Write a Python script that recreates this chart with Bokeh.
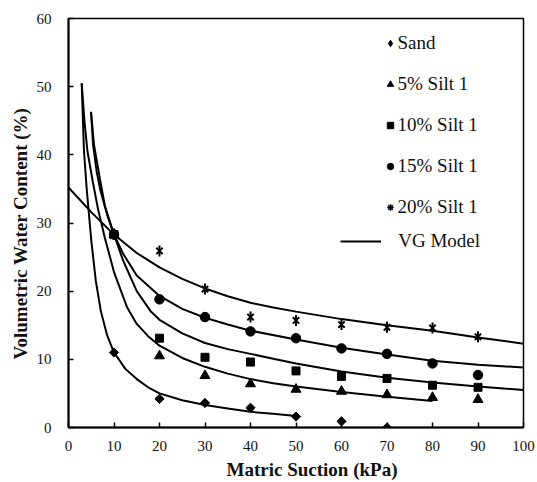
import math
from bokeh.plotting import figure
from bokeh.models import Range1d, SingleIntervalTicker, Legend, LegendItem, Title
from bokeh.embed import file_html
from bokeh.resources import INLINE

# ---------------- data ----------------
suction = [10, 20, 30, 40, 50, 60, 70, 80, 90]
sand = [11.0, 4.2, 3.6, 2.9, 1.6, 0.9, 0.0]
silt5 = [28.3, 10.5, 7.6, 6.4, 5.6, 5.3, 4.8, 4.4, 4.1]
silt10 = [28.3, 13.1, 10.3, 9.6, 8.3, 7.5, 7.2, 6.2, 5.9]
silt15 = [28.3, 18.8, 16.2, 14.1, 13.1, 11.6, 10.8, 9.4, 7.7]
silt20 = [28.4, 25.9, 20.3, 16.2, 15.7, 15.1, 14.7, 14.6, 13.3]

# VG model curves
vg_sand_x = [2.9, 3.4, 4.0, 5.0, 6.0, 7.1, 8.5, 10, 12.5, 15, 17.5, 20, 25, 30, 35, 40, 45, 50]
vg_sand_y = [50.5, 40.6, 35.0, 27.5, 21.5, 17.1, 13.5, 11.0, 8.6, 7.1, 5.9, 5.0, 4.0, 3.3, 2.8, 2.3, 2.0, 1.7]
vg_5_x = [2.9, 3.5, 4.15, 5.3, 6.5, 8, 10, 12.9, 15, 17.5, 20, 25, 30, 35, 40, 45, 50, 60, 70, 80]
vg_5_y = [50.5, 45.0, 40.6, 36.2, 32.0, 27.8, 22.8, 17.6, 15.2, 13.4, 12.0, 10.2, 8.9, 7.9, 7.1, 6.5, 6.0, 5.2, 4.5, 3.9]
vg_10_x = [4.95, 5.4, 6.2, 7, 8.5, 10, 12, 15, 18, 20, 25, 30, 35, 40, 45, 50, 60, 70, 80, 90, 100]
vg_10_y = [46.3, 41.5, 37.5, 34.8, 31.2, 28.3, 24.5, 20.0, 17.1, 15.8, 13.8, 12.4, 11.5, 10.8, 10.1, 9.4, 8.2, 7.3, 6.6, 6.0, 5.5]
vg_15_x = [4.95, 5.6, 6.9, 8, 10, 12, 15, 20, 25, 30, 35, 40, 50, 60, 70, 80, 90, 100]
vg_15_y = [46.3, 41.5, 36.5, 32.5, 28.3, 25.5, 22.3, 19.3, 17.4, 16.1, 15.1, 14.2, 12.9, 11.7, 10.7, 9.8, 9.2, 8.8]
vg_20_x = [0, 5, 10, 15, 20, 25, 30, 35, 40, 45, 50, 60, 70, 80, 90, 100]
vg_20_y = [35.2, 31.6, 28.3, 25.6, 23.5, 21.8, 20.4, 19.25, 18.3, 17.6, 17.0, 15.9, 15.0, 14.2, 13.2, 12.3]

series_names = ["Sand", "5% Silt 1", "10% Silt 1", "15% Silt 1", "20% Silt 1"]

FONT = "Liberation Serif"
INK = "#111111"
NAN = float("nan")

p = figure(width=537, height=482, output_backend="svg", toolbar_location=None,
           x_range=Range1d(0, 100), y_range=Range1d(0, 60),
           min_border_left=68, min_border_right=14, min_border_top=18, min_border_bottom=55)
p.background_fill_color = "white"
p.border_fill_color = "white"
p.xgrid.visible = False
p.ygrid.visible = False
p.outline_line_color = "black"
p.outline_line_width = 1.5

for ax in (p.xaxis[0], p.yaxis[0]):
    ax.axis_line_color = "black"
    ax.axis_line_width = 2
    ax.major_tick_in = 5
    ax.major_tick_out = 0
    ax.major_tick_line_width = 1.5
    ax.minor_tick_in = 0
    ax.minor_tick_out = 0
    ax.major_label_text_font = FONT
    ax.major_label_text_font_size = "15px"
    ax.major_label_text_color = INK
p.xaxis[0].ticker = SingleIntervalTicker(interval=10)
p.yaxis[0].ticker = SingleIntervalTicker(interval=10)
p.xaxis[0].major_label_standoff = 13
p.yaxis[0].major_label_standoff = 17

# curves
curves = []
for xs, ys in [(vg_sand_x, vg_sand_y), (vg_5_x, vg_5_y), (vg_10_x, vg_10_y),
               (vg_15_x, vg_15_y), (vg_20_x, vg_20_y)]:
    curves.append(p.line(xs, ys, line_color="black", line_width=2))

# markers
r_sand = p.scatter(suction[:len(sand)], sand, marker="square", size=6.5, angle=math.pi / 4,
                   fill_color="black", line_color="black")
r_5 = p.scatter(suction, silt5, marker="triangle", size=10, fill_color="black", line_color="black")
r_10 = p.scatter(suction, silt10, marker="square", size=8, fill_color="black", line_color="black")
r_15 = p.scatter(suction, silt15, marker="circle", size=9.5, fill_color="black", line_color="black")
r_20a = p.scatter(suction, silt20, marker="x", size=9, line_color="black", line_width=2)
r_20b = p.scatter(suction, silt20, marker="dash", size=11, angle=math.pi / 2,
                  line_color="black", line_width=2)

# legend-only glyphs (a single NaN point, never drawn in the plot)
lg_sand = p.scatter(x=[NAN], y=[NAN], marker="diamond", fill_color="black", line_color="black")
lg_20 = p.scatter(x=[NAN], y=[NAN], marker="asterisk", line_color="black", line_width=1.5)

leg1 = Legend(items=[
    LegendItem(label=series_names[0], renderers=[lg_sand]),
    LegendItem(label=series_names[1], renderers=[r_5]),
    LegendItem(label=series_names[2], renderers=[r_10]),
    LegendItem(label=series_names[3], renderers=[r_15]),
    LegendItem(label=series_names[4], renderers=[lg_20]),
], location=(313.5, 209), orientation="vertical")
leg2 = Legend(items=[LegendItem(label="VG Model", renderers=[curves[0]])],
              location=(272.2, 175))
for lg, gw, st in ((leg1, 16, 0), (leg2, 41, 17)):
    lg.glyph_width = gw
    lg.glyph_height = 16
    lg.label_standoff = st
    lg.label_height = 21
    lg.spacing = 19
    lg.padding = 0
    lg.margin = 0
    lg.border_line_color = None
    lg.background_fill_alpha = 0
    lg.label_text_font = FONT
    lg.label_text_font_size = "19px"
    lg.label_text_color = INK
    p.add_layout(lg)

xt = Title(text="Matric Suction (kPa)", align="left", offset=158, standoff=6,
           text_font=FONT, text_font_size="19px", text_font_style="bold", text_color=INK)
p.add_layout(xt, "below")
yt = Title(text="Volumetric Water Content (%)", align="left", offset=68, standoff=6,
           text_font=FONT, text_font_size="19px", text_font_style="bold", text_color=INK)
p.add_layout(yt, "left")

open("out.html", "w").write(file_html(p, INLINE))
